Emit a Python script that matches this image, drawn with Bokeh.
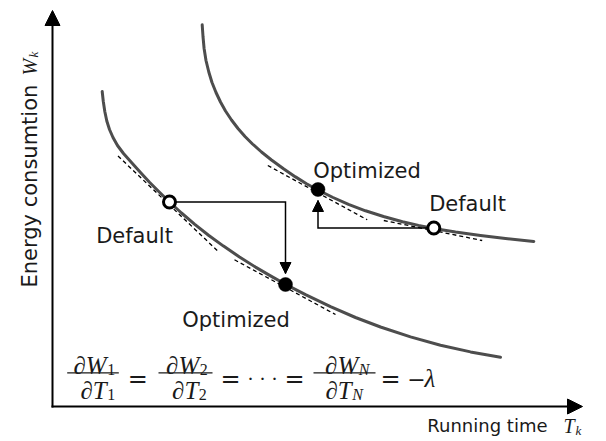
import math

from bokeh.embed import file_html
from bokeh.models import Arrow, Label, NormalHead, Range1d
from bokeh.plotting import figure
from bokeh.resources import INLINE

# Energy consumption W against running time T for two tasks (schematic units)
curve1_t = [49.7, 50.8, 52.3, 54.3, 57, 60.5, 65, 71, 79, 88, 97, 107, 117,
            129, 142, 156, 171, 187, 203, 218, 233, 253, 278, 303, 328, 358,
            388, 418, 448]
curve1_w = [315, 305, 295, 285.5, 277, 269, 261, 253, 244, 234, 224.2, 214.2,
            204.5, 193.5, 182.4, 171.3, 160.4, 149.5, 139.4, 130.6, 122.2,
            111.8, 99.8, 89, 79.5, 69.6, 61.2, 54.6, 49.2]

curve2_t = [149.7, 150.5, 151.6, 153.5, 156.3, 159.5, 163.5, 168, 173, 179,
            185.5, 192.5, 200, 209, 219, 231, 243, 254, 265.5, 280, 296, 313,
            331, 350, 366, 381.3, 403, 428, 453, 481.3]
curve2_w = [381.7, 370, 358, 346, 334.5, 324, 314, 304.5, 295.5, 286.5, 278,
            270, 262.5, 254.5, 246.5, 237.7, 229.6, 222.8, 216.5, 209.25,
            202.2, 195.7, 190, 184.8, 181.1, 178.1, 174.4, 170.9, 167.9, 165.1]

# Operating points: default setting and optimized setting on each curve
default_t = [117, 381.3]
default_w = [204.5, 178.5]
optimized_t = [233, 265.5]
optimized_w = [122, 217]

# Tangent segments drawn at each operating point
tangent_t0 = [65.5, 182, 215.3, 331.3]
tangent_w0 = [250.5, 146.7, 241, 186]
tangent_t1 = [164.7, 283, 314.7, 429.7]
tangent_w1 = [156, 92, 186.7, 166]

# Extent of the two axes
axis_t_max = 530
axis_w_max = 396

LABEL_FONT = "DejaVu Sans"
MATH_FONT = "Liberation Serif"
OP_FONT = "DejaVu Serif"
INK = "#1a1a1a"

p = figure(width=606, height=441, x_range=Range1d(-52, 554),
           y_range=Range1d(-35, 406), x_axis_type=None, y_axis_type=None,
           output_backend="svg", toolbar_location=None, min_border=0)
p.outline_line_color = None
p.background_fill_color = "white"
p.border_fill_color = "white"

# axes with arrow heads
p.add_layout(Arrow(end=NormalHead(size=15, fill_color="black", line_color="black", line_width=1),
                   x_start=0, y_start=-1, x_end=0, y_end=axis_w_max,
                   line_width=2, line_color="black"))
p.add_layout(Arrow(end=NormalHead(size=15, fill_color="black", line_color="black", line_width=1),
                   x_start=-1, y_start=0, x_end=axis_t_max, y_end=0,
                   line_width=2, line_color="black"))

# the two trade-off curves
for ts, ws in ((curve1_t, curve1_w), (curve2_t, curve2_w)):
    p.line(ts, ws, line_width=3, line_color="#4d4d4d", line_cap="round", line_join="round")

# dashed tangents
p.segment(x0=tangent_t0, y0=tangent_w0, x1=tangent_t1, y1=tangent_w1,
          line_color="black", line_width=1.3, line_dash="4 3")

# moves from the default point to the optimized point
gap = 11
for dt, dw, ot, ow in zip(default_t, default_w, optimized_t, optimized_w):
    tip = ow + gap if dw > ow else ow - gap
    p.line([dt, ot, ot], [dw, dw, tip], line_color="black", line_width=1.5, line_join="miter")
    p.add_layout(Arrow(end=NormalHead(size=11, fill_color="black", line_color="black", line_width=1),
                       x_start=ot, y_start=dw, x_end=ot, y_end=tip,
                       line_alpha=0))

# operating points
p.scatter(default_t, default_w, size=12, fill_color="white", line_color="black", line_width=3)
p.scatter(optimized_t, optimized_w, size=14, fill_color="black", line_color="black", line_width=0.5)

# point labels
def label(x, y, text, **kw):
    opts = dict(text_font=LABEL_FONT, text_font_size="21px", text_color=INK,
                text_align="center", text_baseline="alphabetic")
    opts.update(kw)
    p.add_layout(Label(x=x, y=y, text=text, **opts))

label(default_t[0] - 35, default_w[0] - 34, "Default")
label(optimized_t[0] - 49.5, optimized_w[0] - 35, "Optimized")
label(optimized_t[1] + 49, optimized_w[1] + 19, "Optimized")
label(default_t[1] + 33.7, default_w[1] + 24.2, "Default")

# axis titles
label(495, -19, "Running time", text_font_size="18px", text_align="right")
label(511, -19, "T", text_font=MATH_FONT, text_font_style="italic",
      text_font_size="20px", text_align="left")
label(523, -24, "k", text_font=MATH_FONT, text_font_style="italic",
      text_font_size="13px", text_align="left")

label(-23, 119, "Energy consumtion", text_font_size="21px", text_align="left",
      angle=math.pi / 2)
label(-23, 331, "W", text_font=MATH_FONT, text_font_style="italic",
      text_font_size="20px", text_align="left", angle=math.pi / 2)
label(-19.5, 349, "k", text_font=MATH_FONT, text_font_style="italic",
      text_font_size="13px", text_align="left", angle=math.pi / 2)

# optimality condition: equal marginal energy per unit time
num_base, den_base, sub_drop, bar_level = 41, 16, 4, 33.7
fractions = [
    # bar from, bar to, numerator index x, denominator index x, index, index style
    (14.7, 66.3, 54.7, 54.7, "1", "normal"),
    (106, 160, 147.3, 146.3, "2", "normal"),
    (261, 323, 306.3, 299.7, "N", "italic"),
]
for b0, b1, nsx, dsx, idx, idx_style in fractions:
    p.segment(x0=[b0], y0=[bar_level], x1=[b1], y1=[bar_level], line_color=INK, line_width=1.2)
    label(nsx - 0.5, num_base, "\u2202W", text_font=MATH_FONT, text_font_style="italic",
          text_font_size="25px", text_align="right")
    label(nsx, num_base - sub_drop, idx, text_font=MATH_FONT, text_font_style=idx_style,
          text_font_size="16px", text_align="left")
    label(dsx - 0.5, den_base, "\u2202T", text_font=MATH_FONT, text_font_style="italic",
          text_font_size="25px", text_align="right")
    label(dsx, den_base - sub_drop, idx, text_font=MATH_FONT, text_font_style=idx_style,
          text_font_size="16px", text_align="left")

for ex in (85.3, 178, 242, 338):
    label(ex, 28, "=", text_font=OP_FONT, text_font_size="24px")
label(210, 29, "\u00b7 \u00b7 \u00b7", text_font=OP_FONT, text_font_size="19px")
label(354.7, 28, "\u2212", text_font=OP_FONT, text_font_size="22px", text_align="left")
label(372, 28, "\u03bb", text_font=MATH_FONT, text_font_style="italic",
      text_font_size="25px", text_align="left")

open("out.html", "w").write(file_html(p, INLINE))
